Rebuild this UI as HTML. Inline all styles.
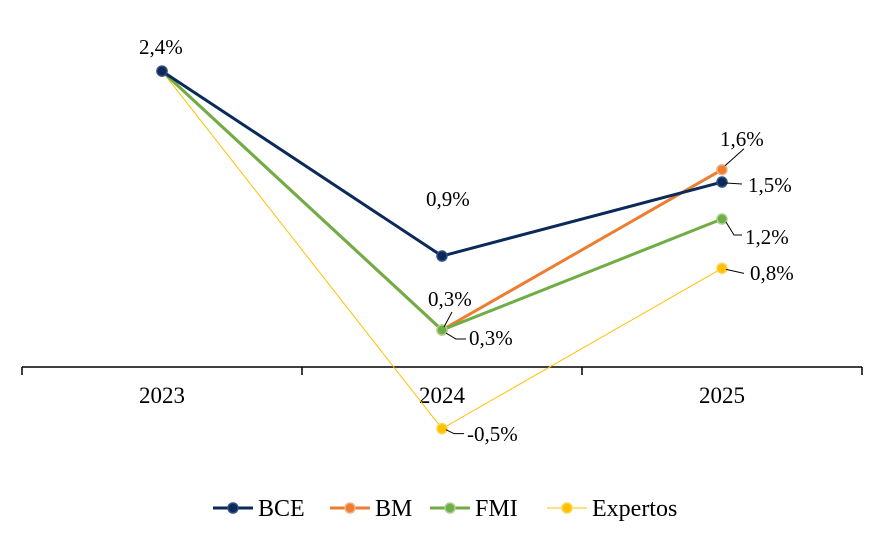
<!DOCTYPE html>
<html><head><meta charset="utf-8"><style>
body{margin:0;background:#fff}
svg{display:block;font-family:"Liberation Serif",serif}
</style></head><body>
<svg id="c" width="886" height="541" viewBox="0 0 886 541"></svg>
<script>
const categories=["2023","2024","2025"];
const bce=[2.4,0.9,1.5];
const bm=[2.4,0.3,1.6];
const fmi=[2.4,0.3,1.2];
const expertos=[2.4,-0.5,0.8];
const ns="http://www.w3.org/2000/svg";
const svg=document.getElementById('c');
const xs=i=>162+i*280;
const ys=v=>367-v*123.3;
function mk(t,a,p){const e=document.createElementNS(ns,t);for(const k in a)e.setAttribute(k,a[k]);(p||svg).appendChild(e);return e;}
const ax=mk('line',{x1:22,x2:862,y1:367,y2:367,stroke:'#000','stroke-width':1.5});


for(let i=0;i<=3;i++){const t=mk('line',{x1:22+i*280,x2:22+i*280,y1:367,y2:375,stroke:'#000','stroke-width':1.5});

}
categories.forEach((c,i)=>{const t=mk('text',{x:xs(i),y:403,'text-anchor':'middle','font-size':23});t.textContent=c;

});
const series=[
{n:'expertos',d:expertos,c:'#ffc000',w:1,f:'#ffc000',s:'#ffd54f'},
{n:'bm',d:bm,c:'#ed7d31',w:3,f:'#ed7d31',s:'#f4b183'},
{n:'fmi',d:fmi,c:'#70ad47',w:3,f:'#70ad47',s:'#a9d18e'},
{n:'bce',d:bce,c:'#0b2a5a',w:3,f:'#0b2a5a',s:'#2f4f80'}];
series.forEach(s=>{
const g=mk('g',{});


const p=mk('polyline',{points:s.d.map((v,i)=>xs(i)+','+ys(v)).join(' '),fill:'none',stroke:s.c,'stroke-width':s.w},g);


s.d.forEach((v,i)=>{const m=mk('circle',{cx:xs(i),cy:ys(v),r:5,fill:s.f,stroke:s.s,'stroke-width':1.5},g);

});
});
const labs=[
[bce[0],139,54,null],[bce[1],426,206,null],
[bm[1],428,306,[xs(1)+2,ys(bm[1])-3,xs(1)+10,ys(bm[1])-18]],
[fmi[1],469,345,[xs(1)+4,ys(fmi[1])+3,xs(1)+14,ys(fmi[1])+9,xs(1)+24,ys(fmi[1])+9]],
[bm[2],720,146,[xs(2)+3,ys(bm[2])-4,xs(2)+22,ys(bm[2])-21]],
[bce[2],748,192,[xs(2)+4,ys(bce[2])+1,xs(2)+20,ys(bce[2])+2]],
[fmi[2],745,244,[xs(2)+4,ys(fmi[2])+3,xs(2)+12,ys(fmi[2])+16,xs(2)+20,ys(fmi[2])+16]],
[expertos[2],750,280,[xs(2)+4,ys(expertos[2])+1,xs(2)+22,ys(expertos[2])+5]],
[expertos[1],467,441,[xs(1)+4,ys(expertos[1])+1,xs(1)+12,ys(expertos[1])+5,xs(1)+22,ys(expertos[1])+5]]];
labs.forEach(l=>{
if(l[3]){const pts=[];for(let k=0;k<l[3].length;k+=2)pts.push(l[3][k]+','+l[3][k+1]);
const ln=mk('polyline',{points:pts.join(' '),fill:'none',stroke:'#000','stroke-width':1});

}
const t=mk('text',{x:l[1],y:l[2],'font-size':21});t.textContent=l[0].toFixed(1).replace('.',',')+'%';

});
const leg=[['BCE','#0b2a5a',3,213,'#2f4f80'],['BM','#ed7d31',3,330,'#f4b183'],['FMI','#70ad47',3,430,'#a9d18e'],['Expertos','#ffc000',1,547,'#ffd54f']];
leg.forEach(e=>{const g=mk('g',{});


mk('line',{x1:e[3],x2:e[3]+40,y1:508,y2:508,stroke:e[1],'stroke-width':e[2]},g);
mk('circle',{cx:e[3]+20,cy:508,r:5,fill:e[1],stroke:e[4],'stroke-width':1.5},g);
const t=mk('text',{x:e[3]+45,y:516,'font-size':24},g);t.textContent=e[0];});
</script>
</body></html>
